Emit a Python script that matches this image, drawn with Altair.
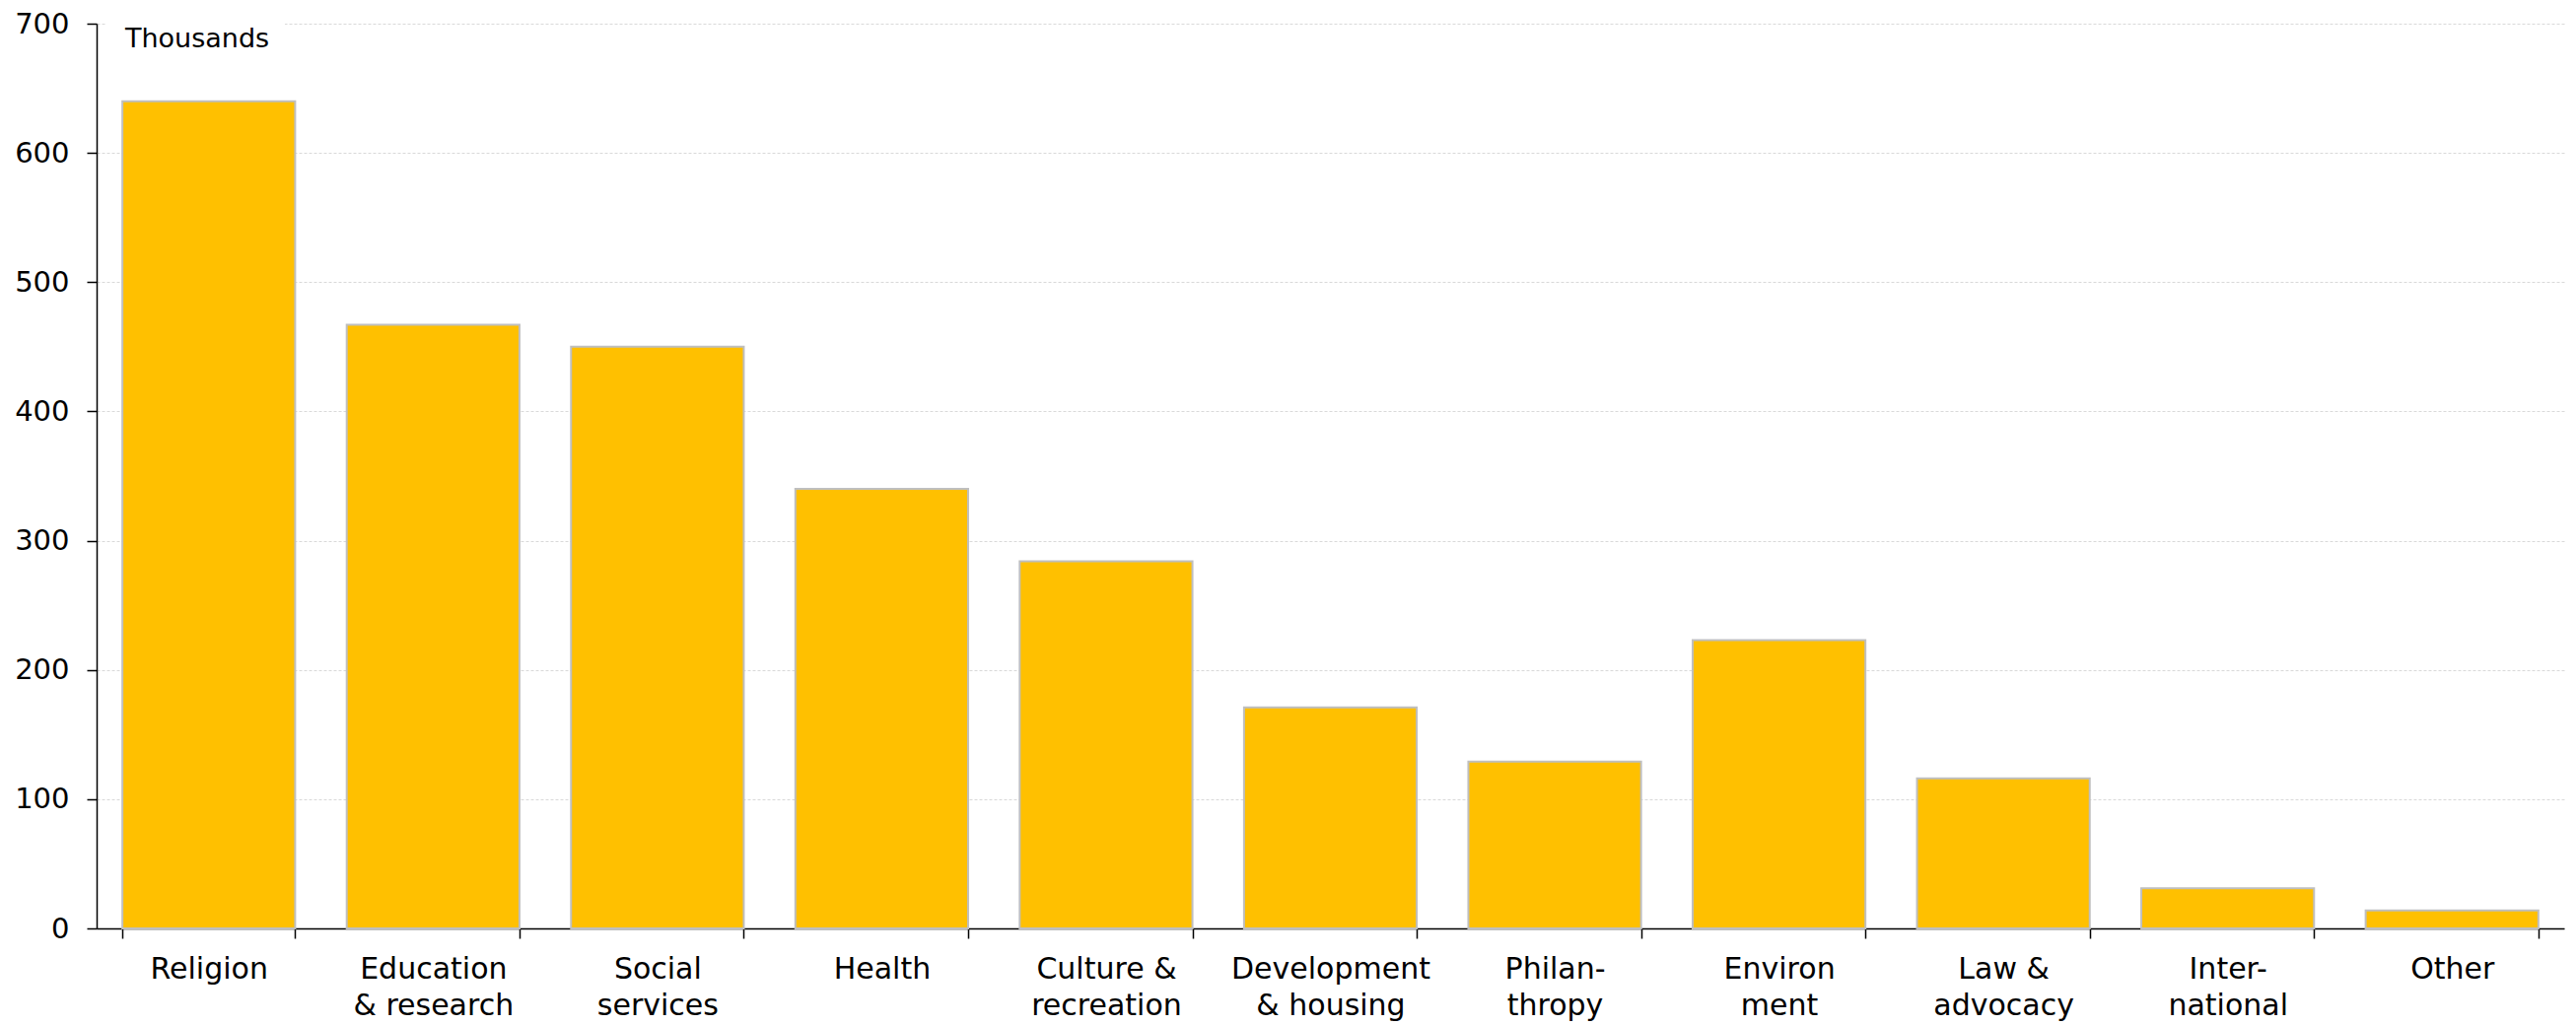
import altair as alt
import pandas as pd

categories = ["Religion", "Education|& research", "Social|services", "Health",
              "Culture &|recreation", "Development|& housing", "Philan-|thropy",
              "Environ|ment", "Law &|advocacy", "Inter-|national", "Other"]
values = [640, 467, 450, 340, 284, 171, 129, 223, 116, 31, 14]
y_ticks = [0, 100, 200, 300, 400, 500, 600, 700]
unit_label = ["Thousands"]

df = pd.DataFrame({"category": categories, "value": values})
FONT = "DejaVu Sans"

bars = alt.Chart(df).mark_bar(color="#FFC000", stroke="#BFBFBF", strokeWidth=2).encode(
    x=alt.X("category:N", sort=categories,
            scale=alt.Scale(paddingInner=0.23, paddingOuter=0.115),
            axis=alt.Axis(title=None, labelAngle=0, tickBand="extent",
                          labelExpr="split(datum.label, '|')", labelLimit=0,
                          labelFont=FONT, labelFontSize=30, labelColor="#000000",
                          labelLineHeight=37, labelPadding=16, labelBaseline="top",
                          domainColor="#000000", domainWidth=1.5,
                          tickColor="#000000", tickWidth=1.5, tickSize=10,
                          grid=False)),
    y=alt.Y("value:Q", scale=alt.Scale(domain=[0, 700], nice=False),
            axis=alt.Axis(title=None, values=y_ticks, labelFont=FONT, labelFontSize=29,
                          labelColor="#000000", labelPadding=18,
                          domainColor="#000000", domainWidth=1.5,
                          tickColor="#000000", tickWidth=1.5, tickSize=10,
                          grid=True, gridColor="#D9D9D9", gridDash=[3, 2], gridWidth=1.2)),
)

mask = alt.Chart(pd.DataFrame({"t": unit_label})).mark_rect(color="white").encode(
    x=alt.value(9), x2=alt.value(191), y=alt.value(-6), y2=alt.value(6)
)

label = alt.Chart(pd.DataFrame({"t": unit_label})).mark_text(
    align="left", baseline="alphabetic", font=FONT, fontSize=27, color="#000000"
).encode(text="t:N", x=alt.value(29), y=alt.value(24))

chart = alt.layer(mask, bars, label).properties(
    width=2503, height=918,
    padding={"left": 90, "top": 16, "right": 4, "bottom": 100},
    autosize=alt.AutoSizeParams(type="none"),
).configure_view(stroke=None)

chart.save("out.html", embed_options={"renderer": "svg", "actions": False})
